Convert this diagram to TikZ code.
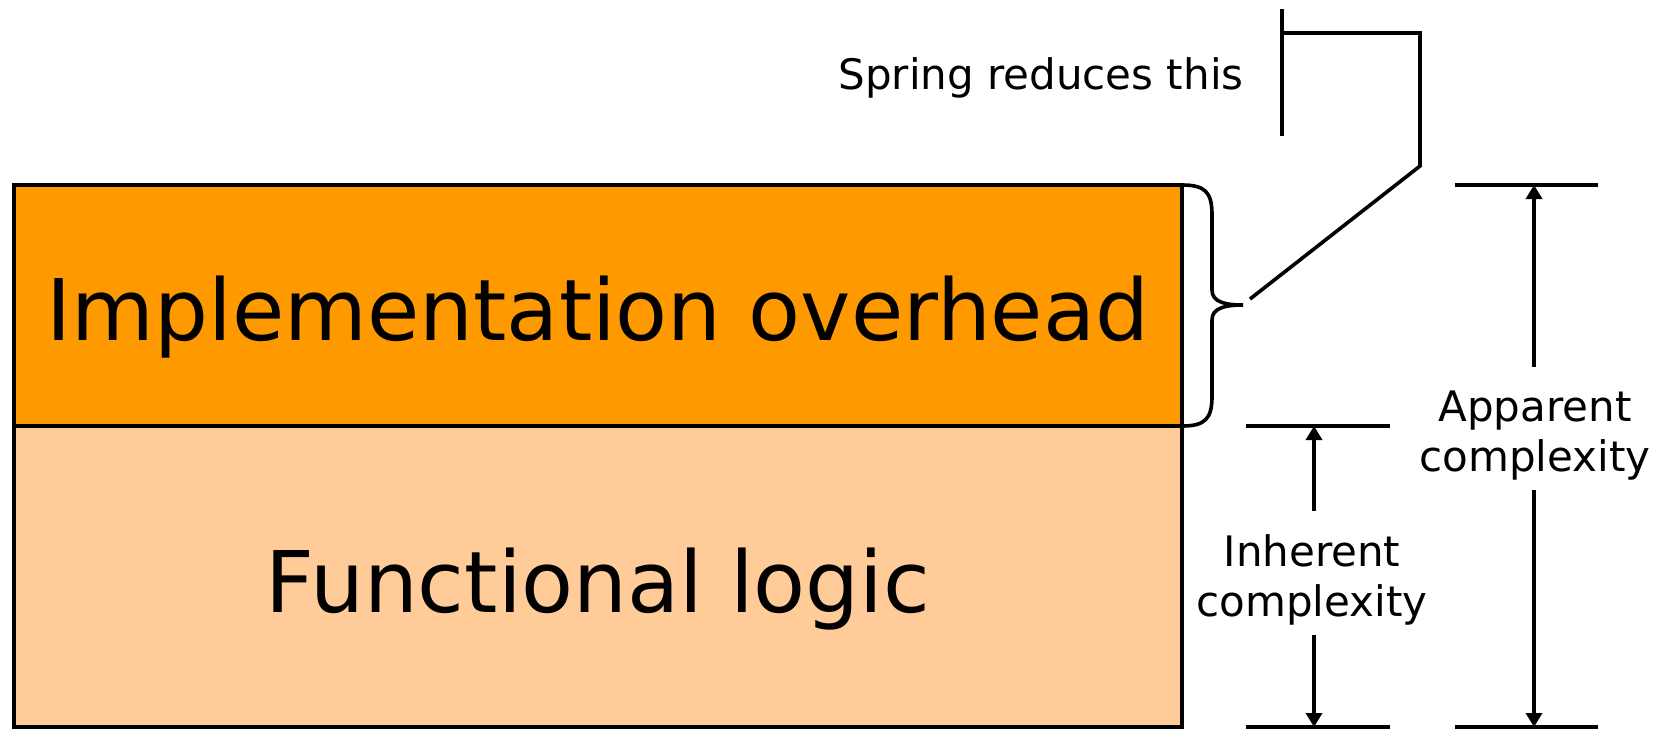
\documentclass[tikz,border=0pt]{standalone}
\usepackage{fontspec}
\setmainfont{DejaVu Sans}
\usetikzlibrary{calc}
\usetikzlibrary{arrows.meta}
\definecolor{overheadorange}{RGB}{255,153,0}
\definecolor{logicpeach}{RGB}{255,204,153}
\tikzset{%
  layer/.style    = {draw, line width=1.8pt, rectangle, minimum width=584pt, inner sep=0pt, outer sep=0pt},
  bigtext/.style  = {inner sep=0pt, anchor=base, font=\fontsize{42.5pt}{51pt}\selectfont},
  label/.style    = {align=center, inner xsep=2pt, inner ysep=8.1pt, font=\fontsize{21pt}{25pt}\selectfont},
  tick/.style     = {line width=1.8pt},
  dimarrow/.style = {line width=1.8pt, -{Triangle[length=7pt, width=8pt]}},
  callout/.style  = {line width=1.8pt}
}
\begin{document}
\begin{tikzpicture}[x=0.5pt, y=0.5pt]
    \useasboundingbox (0, 0) rectangle (1668, 730);

    %layers
    \node[layer, fill=overheadorange, minimum height=120.5pt] (overhead) at (598, 424.5) {};
    \node[layer, fill=logicpeach, minimum height=150.5pt] (logic) at (598, 153.5) {};
    \node[bigtext] (overheadtxt) at ([yshift=-17.25pt]overhead.center) {Implementation overhead};
    \node[bigtext] (logictxt) at ([yshift=-17.75pt]logic.center) {Functional logic};

    %brace
    \draw[callout] (overhead.north east) .. controls +(23,0) and +(0,23) .. ++(30,-30) -- ++(0,-75)
        .. controls +(0,-12) and +(-18,0) .. ++(31,-15) coordinate (bracetip)
        .. controls +(-18,0) and +(0,12) .. ++(-31,-15) -- ++(0,-76)
        .. controls +(0,-23) and +(23,0) .. (overhead.south east);

    %spring callout
    \coordinate (calstart) at ([shift={(7,6)}]bracetip);
    \coordinate (calbend) at (1420, 564);
    \coordinate (caltop) at (1420, 697);
    \coordinate (calleft) at (1282, 697);
    \coordinate (bartop) at (1282, 721);
    \coordinate (barbot) at (1282, 594);
    \draw[callout] (calstart) -- (calbend) -- (caltop) -- (calleft);
    \draw[callout] (bartop) -- (barbot);
    \node[label, anchor=base east, inner sep=0pt] (spring) at (1244, 640) {Spring reduces this};

    %inherent complexity
    \coordinate (inhtopl) at (1246, 304);
    \coordinate (inhtopr) at (1390, 304);
    \coordinate (inhbotl) at (1246, 3);
    \coordinate (inhbotr) at (1390, 3);
    \draw[tick] (inhtopl) -- (inhtopr);
    \draw[tick] (inhbotl) -- (inhbotr);
    \node[label] (inherent) at (1312, 150) {Inherent\\complexity};
    \draw[dimarrow] ([yshift=3.5pt]inherent.north -| 1314, 0) -- (1314, 304);
    \draw[dimarrow] ([yshift=3.5pt]inherent.south -| 1314, 0) -- (1314, 3);

    %apparent complexity
    \coordinate (apptopl) at (1455, 545);
    \coordinate (apptopr) at (1598, 545);
    \coordinate (appbotl) at (1455, 3);
    \coordinate (appbotr) at (1598, 3);
    \draw[tick] (apptopl) -- (apptopr);
    \draw[tick] (appbotl) -- (appbotr);
    \node[label] (apparent) at (1535, 294.5) {Apparent\\complexity};
    \draw[dimarrow] ([yshift=3.5pt]apparent.north -| 1534, 0) -- (1534, 545);
    \draw[dimarrow] ([yshift=3.5pt]apparent.south -| 1534, 0) -- (1534, 3);
\end{tikzpicture}
\end{document}
